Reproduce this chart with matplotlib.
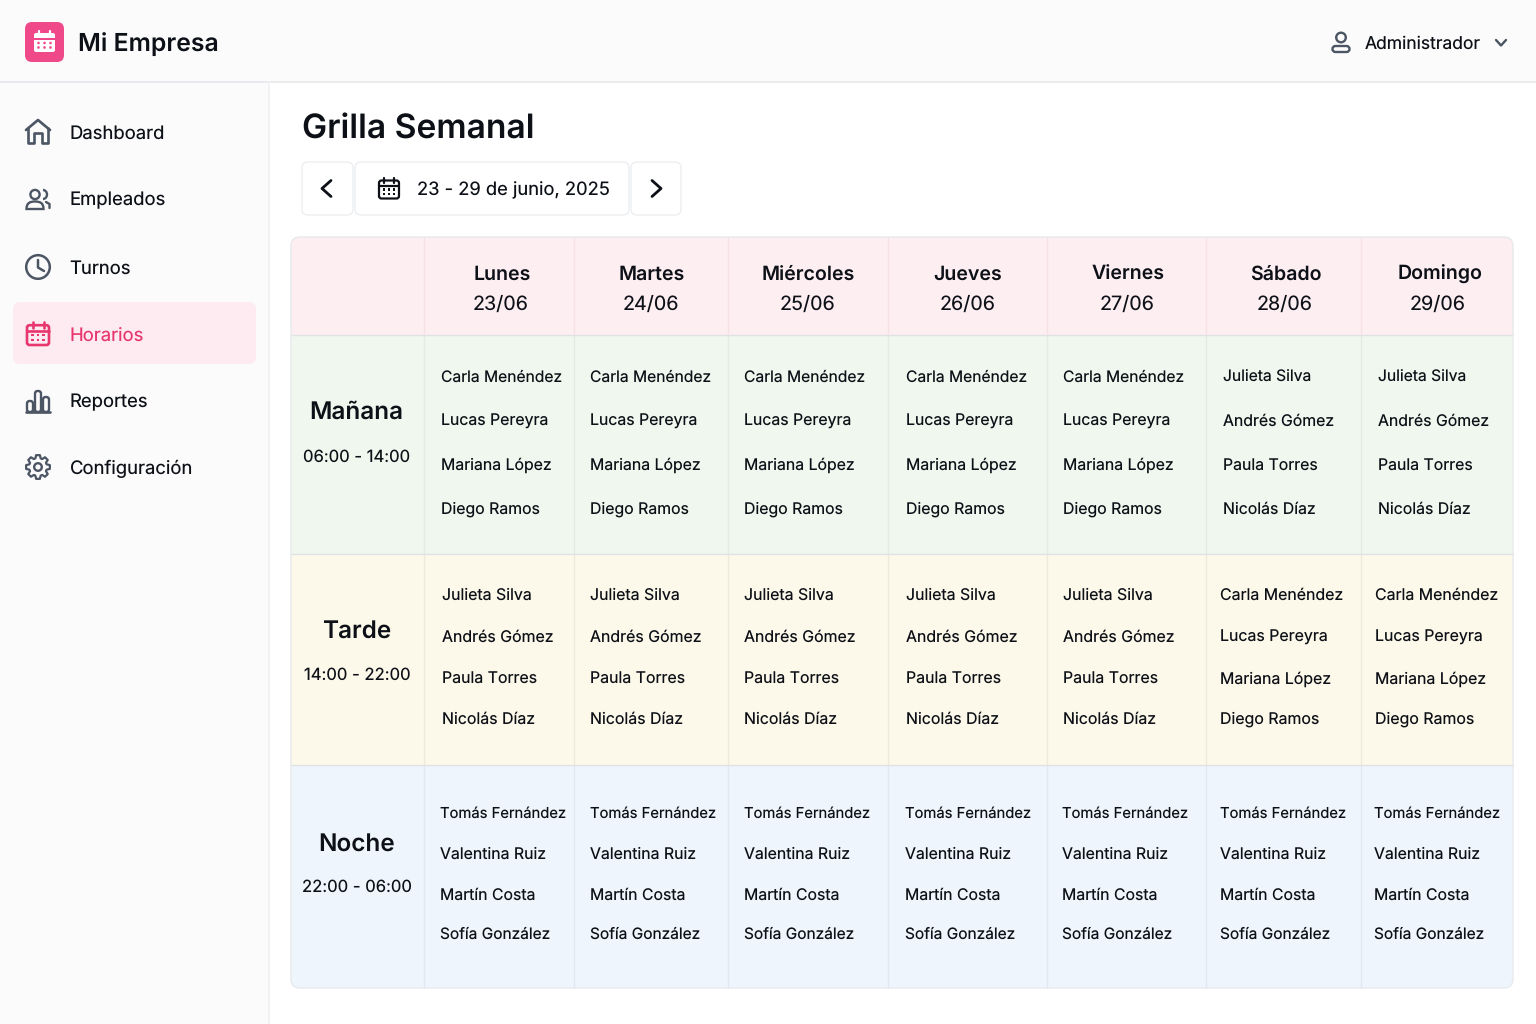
import matplotlib
matplotlib.use("Agg")
import matplotlib.pyplot as plt
from matplotlib.patches import FancyBboxPatch, Rectangle, Circle, Arc, PathPatch, Polygon
from matplotlib.path import Path
import numpy as np

plt.rcParams['font.family'] = ['Inter', 'DejaVu Sans']
plt.rcParams['text.hinting'] = 'no_hinting'
plt.rcParams['text.hinting_factor'] = 1

# datos
dias = ["Lunes", "Martes", "Miércoles", "Jueves", "Viernes", "Sábado", "Domingo"]
fechas = ["23/06", "24/06", "25/06", "26/06", "27/06", "28/06", "29/06"]
turnos = ["Mañana", "Tarde", "Noche"]
horas = ["06:00 - 14:00", "14:00 - 22:00", "22:00 - 06:00"]
menu = ["Dashboard", "Empleados", "Turnos", "Horarios", "Reportes", "Configuración"]

grupo_a = ["Carla Menéndez", "Lucas Pereyra", "Mariana López", "Diego Ramos"]
grupo_b = ["Julieta Silva", "Andrés Gómez", "Paula Torres", "Nicolás Díaz"]
grupo_c = ["Tomás Fernández", "Valentina Ruiz", "Martín Costa", "Sofía González"]

# quien trabaja en cada turno, de lunes a domingo
manana = [grupo_a] * 5 + [grupo_b] * 2
tarde = [grupo_b] * 5 + [grupo_a] * 2
noche = [grupo_c] * 7
grilla = [manana, tarde, noche]

# posiciones en pixeles
col_x = [291, 424, 574, 728, 888, 1047, 1206, 1361, 1513]
fila_y = [237, 335, 554, 765, 988]
dia_x = [502, 652, 808, 968, 1128, 1286, 1440]
fecha_x = [501, 651, 808, 968, 1127, 1285, 1438]
nombre_x = [[441, 590, 744, 906, 1063, 1223, 1378],
            [442, 590, 744, 906, 1063, 1220, 1375],
            [440, 590, 744, 905, 1062, 1220, 1374]]
nombre_y = [[376, 420, 464, 508], [594, 636, 678, 718], [812, 853, 894, 933]]
nombre_fs = [[11.25, 11.4, 11.4, 11.4], [11.45, 11.45, 11.45, 11.45], [10.65, 11.4, 11.4, 11.15]]
turno_y = [410, 629, 842]
hora_y = [456, 674, 886]
menu_y = [132, 199, 267, 334, 401, 467]

TINTA = "#0D1117"
GRIS = "#4B5563"
ROSA = "#E8366F"
LINEA = "#E7E9EC"
colores = ["#FDEEF2", "#F0F7EF", "#FDF9EA", "#EEF5FC"]
lineas = ["#F5E1E6", "#E3ECE3", "#EFEBDB", "#E0E8F1"]

fig = plt.figure(figsize=(15.36, 10.24), dpi=100)
ax = fig.add_axes([0, 0, 1, 1])
ax.set_xlim(0, 1536)
ax.set_ylim(1024, 0)
ax.axis("off")


def texto(x, y, s, fs, c=TINTA, peso="normal", ha="left"):
    # y es el centro de las mayusculas, asi los acentos y descendentes no lo mueven
    ax.text(x, y + fs * 0.5, s, fontsize=fs, color=c, fontweight=peso, va="baseline", ha=ha, zorder=7)


def caja(x0, y0, x1, y1, r, fc, ec="none", lw=1, z=1):
    p = FancyBboxPatch((x0 + r, y0 + r), x1 - x0 - 2 * r, y1 - y0 - 2 * r,
                       boxstyle="round,pad=%f,rounding_size=%f" % (r, r),
                       fc=fc, ec=ec, lw=lw, zorder=z)
    ax.add_patch(p)
    return p


def trazo(xs, ys, c=GRIS, lw=1.7, z=5):
    ax.plot(xs, ys, color=c, lw=lw, solid_capstyle="round", solid_joinstyle="round", zorder=z)


def calendario(cx, cy, s, c, lw=1.7):
    caja(cx - s, cy - s * 0.8, cx + s, cy + s, 2.5, "none", c, lw, 5)
    trazo([cx - s, cx + s], [cy - s * 0.3, cy - s * 0.3], c, lw)
    for dx in (-0.5, 0.5):
        trazo([cx + dx * s] * 2, [cy - s * 1.1, cy - s * 0.55], c, lw)
    for fy in (0.1, 0.55):
        for fx in (-0.5, 0, 0.5):
            ax.add_patch(Rectangle((cx + fx * s - 1.1, cy + fy * s - 1.1), 2.2, 2.2, fc=c, ec="none", zorder=6))


def engranaje(cx, cy):
    # ocho dientes, cada uno con cuatro vertices
    pts = []
    for k in range(8):
        a = k * np.pi / 4
        for da, r in ((-0.30, 9.0), (-0.16, 12.0), (0.16, 12.0), (0.30, 9.0)):
            pts.append((cx + r * np.cos(a + da), cy + r * np.sin(a + da)))
    ax.add_patch(Polygon(pts, closed=True, fc="none", ec=GRIS, lw=1.6, joinstyle="round", zorder=5))
    ax.add_patch(Circle((cx, cy), 3.8, fc="none", ec=GRIS, lw=1.7, zorder=6))


# fondo
ax.add_patch(Rectangle((0, 0), 1536, 1024, fc="white", ec="none", zorder=0))
ax.add_patch(Rectangle((0, 0), 1536, 82, fc="#FBFBFC", ec="none", zorder=1))
ax.add_patch(Rectangle((0, 82), 269, 942, fc="#FBFBFC", ec="none", zorder=1))
trazo([0, 1536], [82, 82], LINEA, 1.3, 2)
trazo([269, 269], [82, 1024], "#F0F1F4", 1.3, 2)

# logo
caja(25, 22, 64, 62, 7, "#F0498A")
caja(34, 33, 55, 52, 2, "white", z=3)
ax.add_patch(Rectangle((34, 37.5), 21, 2.2, fc="#F0498A", ec="none", zorder=4))
for dx in (39, 50):
    trazo([dx, dx], [30.5, 35], "white", 1.6)
for fy in (43, 47.5):
    for fx in (38.5, 44.5, 50.5):
        ax.add_patch(Circle((fx, fy), 1.3, fc="#F0498A", ec="none", zorder=5))
texto(78, 42, "Mi Empresa", 17.85, peso="semibold")

# usuario
ax.add_patch(Circle((1341, 37.5), 4.8, fc="none", ec=GRIS, lw=1.7, zorder=5))
caja(1332.5, 46, 1349.5, 52, 3, "none", GRIS, 1.7, 5)
texto(1365, 42.5, "Administrador", 12.6)
trazo([1496, 1501, 1506], [40, 45.5, 40], GRIS, 1.7)

# menu
caja(13, 302, 256, 364, 7, "#FDEBF1")
for nombre, y in zip(menu, menu_y):
    texto(69.5, y, nombre, 13.3, c=ROSA if nombre == "Horarios" else TINTA)

# casa
trazo([26, 38, 50], [130, 120, 130], GRIS, 1.9)
trazo([28, 28, 34, 34, 42, 42, 48, 48], [128, 143, 143, 133, 133, 143, 143, 128], GRIS, 1.9)
# personas
ax.add_patch(Circle((35, 194.5), 4.6, fc="none", ec=GRIS, lw=1.7, zorder=5))
ax.add_patch(PathPatch(Path([(26.5, 209), (26.5, 203), (30, 201.5), (35, 201.5), (40, 201.5), (43.5, 203), (43.5, 209), (26.5, 209)],
                            [1, 4, 4, 4, 4, 4, 4, 79]), fc="none", ec=GRIS, lw=1.7, zorder=5))
ax.add_patch(Arc((43, 194.5), 8, 9, theta1=-90, theta2=90, ec=GRIS, lw=1.7, zorder=5))
trazo([46, 49.5, 49.5], [202, 204, 208], GRIS, 1.7)
# reloj
ax.add_patch(Circle((38, 267), 11.8, fc="none", ec=GRIS, lw=1.8, zorder=5))
trazo([38, 38, 44], [260, 267.5, 271], GRIS, 1.8)
# horarios
calendario(38, 334, 11, ROSA, 1.9)
# reportes
for x0, x1, y0 in ((27, 33, 401), (35, 41, 391), (43, 49, 397)):
    caja(x0, y0, x1, 412, 2.5, "none", GRIS, 1.7, 5)
trazo([26, 50], [412, 412], GRIS, 1.9)
# configuracion
engranaje(38, 467)

# titulo y selector
texto(302, 126, "Grilla Semanal", 24.2, peso="semibold")
for x0, x1 in ((302, 353), (355, 629), (631, 681)):
    caja(x0, 162, x1, 215, 6, "white", "#ECEEF1", 1.0)
trazo([331, 322, 331], [180.5, 188.5, 196.5], TINTA, 2.0)
trazo([652, 661, 652], [180.5, 188.5, 196.5], TINTA, 2.0)
calendario(389, 188.5, 10, TINTA, 1.6)
texto(417, 188.5, "23 - 29 de junio, 2025", 13.2)

# grilla: fondo recortado con las esquinas redondeadas
marco = caja(col_x[0], fila_y[0], col_x[-1], fila_y[-1], 9, "none", "none", 0, 1)
for i, c in enumerate(colores):
    r = ax.add_patch(Rectangle((col_x[0], fila_y[i]), col_x[-1] - col_x[0], fila_y[i + 1] - fila_y[i], fc=c, ec="none", zorder=2))
    r.set_clip_path(marco)
    for x in col_x[1:-1]:
        trazo([x, x], [fila_y[i], fila_y[i + 1]], lineas[i], 1.0, 3)
    if i > 0:
        trazo([col_x[0], col_x[-1]], [fila_y[i], fila_y[i]], "#E0E3E5", 1.0, 3)
caja(col_x[0], fila_y[0], col_x[-1], fila_y[-1], 9, "none", "#E7E9EC", 1.0, 4)

# cabecera
for j, (d, f) in enumerate(zip(dias, fechas)):
    texto(dia_x[j], 272.5, d, 14.1, peso="semibold", ha="center")
    texto(fecha_x[j], 303, f, 14.2, ha="center")

# filas
for i, t in enumerate(turnos):
    texto(356.5, turno_y[i], t, 17.5, peso="semibold", ha="center")
    texto(357, hora_y[i], horas[i], 12.0, ha="center")
    for j in range(7):
        for k, n in enumerate(grilla[i][j]):
            texto(nombre_x[i][j], nombre_y[i][k], n, nombre_fs[i][k])

fig.savefig("out.png", dpi=100)
